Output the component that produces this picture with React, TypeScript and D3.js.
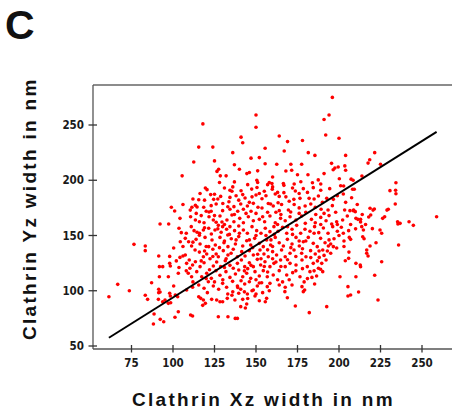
import React from "react";
import * as d3 from "d3";

const xTicks = [75, 100, 125, 150, 175, 200, 225, 250];
const yTicks = [50, 100, 150, 200, 250];
const xLabel = "Clathrin Xz width in nm";
const yLabel = "Clathrin Yz width in nm";
const panelLabel = "C";
const fitSlope = 0.944;
const fitIntercept = -0.5;

const points: [number, number][] = [
  [196,275],[194,259],[191,255],[192,241],[200,238],[150,259],[150,248],[118,251],[141,239],[142,234],[164,240],[169,235],[178,236],[115.5,230],[124,230],[155.5,229],
  [136,225],[167,226.5],[181.5,225],[185.5,222.5],[204,222.5],[221.5,225],[152,220.5],[147,220],[218.5,218.5],
  [217.5,215.5],[225,214.5],[125,217.5],[112.5,216.5],[137,214],[155.5,215],[162.5,214.5],[171,214.5],[177.5,214.5],[195.5,215.3],[203.5,213],[127.5,210],[197.5,211],[199.5,212],
  [126.5,208],[105.5,204],[128.5,204],[144.5,206],[146,207],[151,208.5],[168,208.4],[171.5,209],[181.3,205],[191,206],[196.5,209.5],[204,209],[150.5,200],[208.5,200],[207.3,201],
  [151,198],[137,198.5],[158,198],[159.6,197],[166.5,197],[173,196.6],[177,198.7],[184,197.8],[187.5,200.3],[189,196.6],[200.2,201.4],[213.8,203.9],[234.3,197.8],
  [119.5,193],[120.5,191.5],[134.3,191],[135.5,190],[141,190.5],[147.4,192],[150.6,193.5],[157,196],[159.8,191.8],[166.8,195.4],[173.7,190.3],[178.5,192.4],[184.5,193.3],[189,191],[194.4,192.4],[201,195],[202.8,194.8],[208.2,191.8],[209.2,191.8],[234.1,191],[230.7,190.6],
  [116.3,188],[122.7,187],[125,187.3],[112,183],[115.5,182.4],[119,182],[124.5,182.7],[128.7,185.4],[134.3,184.5],[139.6,182],[143.4,184],[147.6,185],[150,186.6],[153.6,183.3],[156,186],[161.6,187.5],[164,185.4],[166.8,188.8],[172.8,182.7],[176.5,183.6],[182,183.6],[187.6,185.7],[192.6,183.6],[196.6,182.7],[202.6,187.5],[207.6,184.2],[234.3,187.8],[233.9,178.5],
  [99,175.5],[101,172.2],[106,178],[110.4,173],[111.4,175.5],[113.5,177.3],[114.5,175.8],[118.5,175.5],[121.7,171.3],[123,171.9],[126,178.5],[129.9,172.5],[133.7,180.6],[134.3,173.7],[136.7,176.1],[140.8,178.5],[142.4,173.7],[144.8,176.7],[148.4,179.1],[151.2,175.5],[153.6,174.9],[157.4,179],[158.8,178.5],[160.4,176.7],[163.3,179.7],[165.4,178],[164,172.5],[169.5,173.1],[170.9,171.3],[176,175],[179.6,176.7],[183,178.5],[185.7,175.5],[189.2,173.7],[193.4,173.1],[218.7,174.6],[228.9,173],[229.7,173.7],[221.3,174],[220.5,173],[208.8,173],[209.8,171.6],[203.4,173.1],
  [92.2,160.4],[97.4,160.4],[104.2,165.5],[110.6,167],[113.5,164],[115.9,162.5],[118.7,161.6],[121.7,167],[124.3,164],[128.3,167.6],[129.5,162.2],[132.5,164],[135.5,168.6],[136.7,162.5],[140.2,165.5],[142.4,161.6],[145.4,167],[148.4,163.4],[152,164.6],[155.2,162.5],[158.4,167.6],[161.6,161.6],[164.8,165.5],[167.6,163.4],[170.5,167],[174.1,164],[177.5,167.6],[179.7,161],[183.4,164.6],[185.7,161.6],[189,166.4],[192.2,163.4],[195.6,160.4],[198.6,162.5],[202.2,164],[205,167.6],[206.6,172.5],[208.6,172.5],[210.2,165.5],[211.4,164.6],[213,164.6],[217.9,166.7],[219.1,168.5],[226.3,165.5],[227.5,167],[235.3,162.5],[236.8,161],[242.2,162.5],[244.8,159.2],[258.8,167],[213,162.3],
  [103.6,156.5],[105,152.6],[112.7,154.4],[114.5,152.9],[115.9,150.2],[118.3,155],[121.5,156.5],[123.1,151.4],[125.3,155],[127.3,159.2],[129.9,158],[132.3,155.6],[134.3,158],[137.1,154.4],[139.6,158.6],[142.4,155],[144.8,152],[147.6,158],[150.4,154.4],[153,152],[155.6,156.5],[158.4,153.5],[160.8,158],[163.3,153.8],[166,157.4],[168.5,152],[171.7,155.6],[174.5,159.2],[176.9,152],[179.5,155.6],[182.5,153.8],[185.3,158],[187.8,152.6],[190.6,156.8],[193.4,152],[196.2,158],[199,153.8],[201.4,157.4],[202.6,152],[205.8,154.4],[213.7,158],[214.7,155],[220.1,156.2],[224.7,155],[225.7,152],[235.5,160.4],
  [76.5,142],[83.3,140.5],[100.4,138.7],[104.4,144.4],[107.4,147.4],[109.4,144.4],[111.2,140.5],[113.9,146.5],[116.3,142.3],[119.3,148.3],[121.5,139.9],[123.5,145.9],[125.5,141.4],[128.3,148.3],[130.7,143.5],[133.1,139.9],[135.1,147.1],[137.6,142.3],[139.6,149],[142,140.5],[144.4,145.3],[146.8,141.4],[149.2,147.4],[152,142.9],[154.4,139.9],[156.4,145.9],[158.8,141.4],[161.6,148.3],[164,143.5],[166.5,140.5],[168.9,146.5],[171.7,142.3],[174.1,148.3],[176.1,140.5],[178.5,144.4],[181.5,148.3],[184.5,142.9],[186.9,139.9],[188.9,147.4],[191.6,143.5],[193.6,140.5],[195,142.3],[196.6,139.9],[198.6,138.7],[206.2,148.3],[207,146.5],[214.3,148.9],[215.1,147.1],[216.7,136.9],[218.7,140.5],[235.9,141.4],[222.3,143.5],
  [83.3,136.3],[91.4,131.4],[98,131.1],[104.2,130.2],[106,131.4],[107.4,132.3],[109.8,127.8],[113.3,136.9],[115.9,135],[118.3,130.8],[120.3,133.3],[124,137.5],[126,133.3],[127.3,130.8],[130.3,136.3],[133.1,132.3],[136.3,137.5],[138.8,130.8],[141.4,135.4],[143.4,131.4],[146,136.3],[148.4,132.3],[152.4,136.9],[154.8,133.3],[157.4,130.8],[160,135.4],[162.4,132.3],[165.4,136.9],[167.6,130.8],[170.5,133.9],[172.9,136.9],[177.5,133.9],[180.1,130.8],[182.9,136.3],[185.7,133.3],[188.1,130.2],[190.2,136.9],[205.8,129.3],[216.7,133.9],[217.5,131.4],
  [91.8,121.8],[93.8,121.8],[98,124.8],[98.4,122.4],[103.6,121],[108.2,124.8],[110.2,120.3],[111.8,123.3],[113.5,126.3],[116.3,121.8],[118.7,125.4],[122.3,129],[124.3,122.4],[126.3,126],[128.7,121.8],[131.5,127.2],[134.3,123],[136.3,120.3],[138.8,124.8],[141.2,127.8],[143.2,121.8],[146,125.4],[148.4,121.8],[150.8,128.4],[152.8,123.3],[155.4,126.3],[158.4,121.8],[160.8,124.8],[164.8,127.8],[167.6,121.8],[170.5,124.8],[174.1,123.3],[177.7,127.8],[180.9,121.8],[184.5,124.8],[187.6,120.3],[189.6,124.8],[192.2,127.8],[203.8,127.2],[210.2,124.8],[213,121.8],[225.7,126.3],[212.8,123.2],
  [91.8,112.7],[97.2,112.7],[103.2,115.8],[109.2,115.8],[111.2,112.7],[114.3,117.3],[117.3,112.7],[120.3,115.8],[123.1,111.2],[125.9,118.2],[128.3,114],[131.9,117.3],[134.3,112.1],[137.6,115.2],[139.6,118.8],[142,112.7],[144.4,115.8],[146.8,111.2],[149.4,117.3],[152,113.3],[154.4,118.2],[156.8,112.7],[160.4,114.3],[164,118.2],[168.5,114.3],[172.1,116.4],[176.5,112.7],[182.5,117.3],[183.7,112.1],[186.5,113.3],[188.9,119.4],[190.2,117.3],[200.6,112.7],[210.2,112.7],[221.5,114],
  [66.7,105.8],[73.7,100],[87.1,107.3],[91.4,101.3],[100.4,104.3],[108.2,100.7],[111.8,103.1],[115.5,105.2],[118.7,102.2],[121.3,108.2],[124.3,104.3],[127.5,101.3],[129.9,106.7],[132.3,103.1],[135.9,108.5],[138.8,104.3],[140.8,101.3],[143.2,106.1],[146,108.2],[148.4,100.7],[150.8,104.3],[153.4,107.3],[156.8,103.7],[158.4,106.7],[164,105.2],[167.6,103.1],[171.7,105.2],[177.7,103.7],[179.3,100.7],[185.3,106.1],[205.4,103.7],
  [61.4,94.6],[83.3,95.9],[84.7,92.2],[91.4,98.3],[92.2,98.9],[91.2,92.2],[93.8,90.1],[95.2,91.6],[98,97.7],[98.4,95.3],[97.2,88.6],[98.6,89.2],[101.4,96.2],[102.8,94.6],[115.5,94.6],[116.7,93.1],[118.3,91.6],[120.7,98.3],[123.3,92.2],[126.3,91.6],[128.3,90.1],[129.9,90.1],[132.7,93.1],[135.5,95.9],[137.3,91.6],[139.6,97.7],[142,92.2],[144.8,97.1],[147.6,100],[149.4,95.2],[154,98.3],[156.4,93.1],[167.4,99.2],[168.9,93.7],[178.5,99.2],[205.4,95.2],[207,96.2],[211.8,98.9],[223.5,91.6],
  [88.6,79],[88.2,69.9],[92.3,74.1],[94.4,72],[101.2,76],[103.2,81],[110.6,78],[111.8,77.1],[117.9,86.8],[119.5,88.6],[127.3,76.5],[133.1,76.5],[137.5,75],[138.8,75],[140.8,85.6],[143.6,84.4],[144.4,88],[155.6,90.1],[173.7,86.2],[182.1,80.2],[192.6,85.6],
  [127,156],[129,153],[131,160],[133,150.5],[126,162],[131,145],[134,151],[128,139],[132,129],[119,136],[117,127],[122,119],[143,118],[145,120],[147,123],[141,109],[143,99],[139,103],[145,93],[150,110],[152,107],[155,122],[157,117],[153,129],[151,133],[148,139],[160,129],[162,126],[159,146],[161,151],[163,160],[165,169],[162,171],[157,171],[154,167],[150,170],[147,172],[144,170],[139,172],[137,169],[133,176],[130,179],[127,183],[123,177],[120,172],[117,168],[114,170],[111,158],[108,152],[106,140],[102,127],[108,118],[112,108],[120,111],[125,108],[130,110],[136,99],[133,97],[150,97],[152,91],[158,100],[163,110],[166,108],[170,110],[174,118],[178,120],[181,111],[179,108],[185,118],[187,127],[191,132],[193,136],[195,134],[197,147],[200,150],[203,145],[199,160],[194,168],[191,170],[186,169],[180,171],[176,170],[173,178],[170,181],[168,185],[163,189],[160,194],[155,190],[152,188],[146,180],[142,187],[138,186],[136,194],[131,193],[128,198],[145,196],[172,193],[176,188],[181,189],[185,183],[190,180],[196,177],[199,186],[204,180],[198,171],[211,178],[214,169],[216,160],[210,156],[207,160],[189,160],[185,152],[180,145],[176,145],[172,151],[169,158],[160,140],[157,137],[156,150],[150,150],[146,146],[140,152],[138,146],[135,134],[131,121],[124,131],[120,140],[116,152],[112,144],[119,157],[125,168],[171,139],[174,131],[169,128],[165,122],[183,130],[178,138],[203,140],[206,135],[188,136],[194,146],[160,203],[175,205],[140,210],[132,204],
];

export default function App() {
  const W = 452, H = 413;
  const x = d3.scaleLinear().domain([50, 250]).range([90, 422]);
  const y = d3.scaleLinear().domain([50, 250]).range([346, 125]);
  const frameLeft = 93, frameTop = 85, frameBottom = 349, frameRight = 452;
  const ext = d3.extent(points, (d) => d[0]) as [number, number];
  const fitLine = d3
    .line<number>()
    .x((v) => x(v))
    .y((v) => y(fitSlope * v + fitIntercept))(ext) as string;
  const axisColor = "#555";
  const tickFont = { fontFamily: "'DejaVu Sans Condensed', 'DejaVu Sans', sans-serif", fontWeight: 700, fontSize: 11.5, fill: "#1a1a1a" };
  const titleFont = { fontFamily: "'Liberation Sans', Arial, sans-serif", fontWeight: 700, fontSize: 19, fill: "#111", letterSpacing: 2.3 };
  return (
    <svg width={W} height={H} viewBox={`0 0 ${W} ${H}`} style={{ position: "absolute", left: 0, top: 0, background: "#fff" }}>
      <text x={5} y={39} style={{ fontFamily: "'Liberation Sans', Arial, sans-serif", fontWeight: 700, fontSize: 41, fill: "#111" }}>{panelLabel}</text>
      <line x1={frameLeft} x2={frameRight} y1={frameTop} y2={frameTop} stroke="#666" strokeWidth={1.4} />
      <line x1={frameLeft} x2={frameLeft} y1={frameTop} y2={frameBottom} stroke={axisColor} strokeWidth={1.3} />
      <line x1={frameLeft} x2={frameRight} y1={frameBottom} y2={frameBottom} stroke={axisColor} strokeWidth={1.3} />
      {yTicks.map((t) => (
        <g key={"y" + t}>
          <line x1={frameLeft - 4.5} x2={frameLeft + 4} y1={y(t)} y2={y(t)} stroke="#333" strokeWidth={1.3} />
          <text x={84} y={y(t)} dy="0.36em" textAnchor="end" style={tickFont}>{t}</text>
        </g>
      ))}
      {xTicks.map((t) => (
        <g key={"x" + t}>
          <line x1={x(t)} x2={x(t)} y1={frameBottom - 4} y2={frameBottom + 3.5} stroke="#333" strokeWidth={1.3} />
          <text x={x(t)} y={367} textAnchor="middle" style={tickFont}>{t}</text>
        </g>
      ))}
      {points.map((p, i) => (
        <circle key={i} cx={x(p[0])} cy={y(p[1])} r={1.8} fill="#ff0000" />
      ))}
      <path d={fitLine} fill="none" stroke="#000" strokeWidth={2} />
      <text x={132} y={406} style={titleFont}>{xLabel}</text>
      <text transform={`translate(36,340) rotate(-90)`} x={0} y={0} style={titleFont}>{yLabel}</text>
    </svg>
  );
}
